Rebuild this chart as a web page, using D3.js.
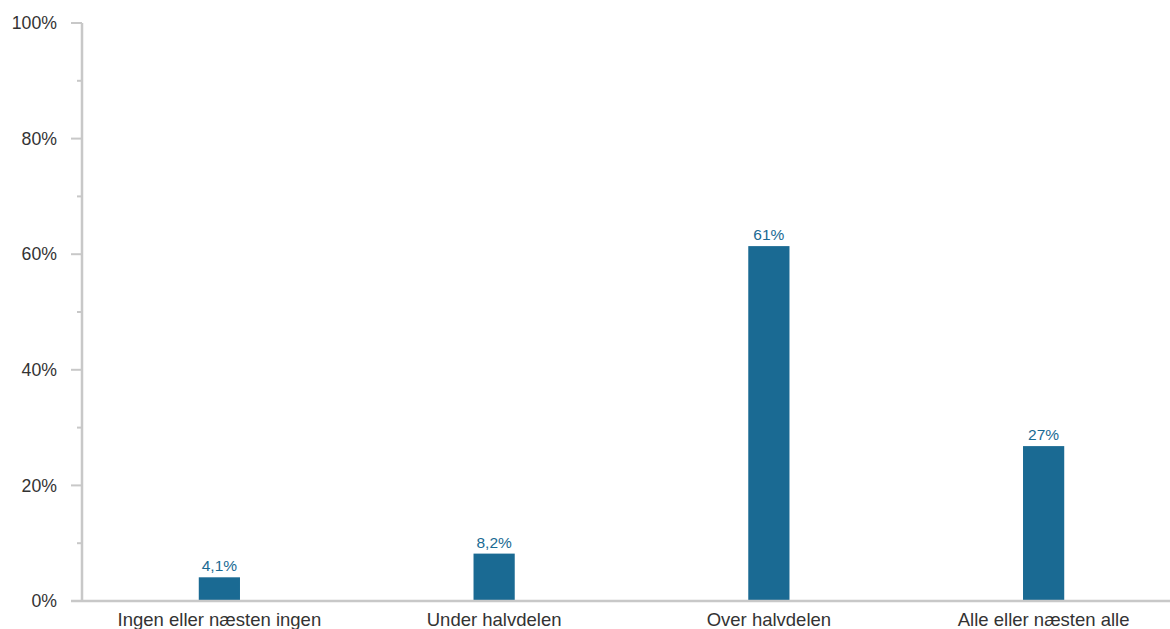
<!DOCTYPE html>
<html><head><meta charset="utf-8">
<script src="https://cdn.jsdelivr.net/npm/d3@7"></script>
<style>body{margin:0;background:#fff;} svg{display:block;font-family:"Liberation Sans",Arial,sans-serif;}</style>
</head><body><svg id="c" width="1170" height="629"></svg>
<script>
const categories = ["Ingen eller næsten ingen", "Under halvdelen", "Over halvdelen", "Alle eller næsten alle"];
const values = [4.1, 8.2, 61.4, 26.8];
const valueLabels = ["4,1%", "8,2%", "61%", "27%"];
const yTicks = [0, 20, 40, 60, 80, 100];
const yMinorTicks = [10, 30, 50, 70, 90];

const svg = d3.select("#c");
const axisColor = "#c8c8c8";
const barColor = "#1a6a93";
const x = d3.scaleBand().domain(categories).range([82, 1181]).paddingInner(0.85).paddingOuter(0.425);
const y = d3.scaleLinear().domain([0, 100]).range([601, 23]);

// y axis line
svg.append("line").attr("x1", 82).attr("x2", 82).attr("y1", y(100)).attr("y2", y(0))
  .attr("stroke", axisColor).attr("stroke-width", 2.5);
// major ticks
svg.selectAll(".tk").data(yTicks).join("line")
  .attr("x1", 71).attr("x2", 82).attr("y1", d => y(d)).attr("y2", d => y(d))
  .attr("stroke", axisColor).attr("stroke-width", 2);
svg.selectAll(".mtk").data(yMinorTicks).join("line")
  .attr("x1", 77).attr("x2", 82).attr("y1", d => y(d)).attr("y2", d => y(d))
  .attr("stroke", axisColor).attr("stroke-width", 2);
svg.selectAll(".tl").data(yTicks).join("text")
  .attr("x", 57).attr("y", d => y(d)).attr("dy", "0.35em").attr("text-anchor", "end")
  .attr("font-size", 17.7).attr("fill", "#333").text(d => d + "%");

// bars
svg.selectAll(".bar").data(values).join("rect")
  .attr("x", (d, i) => x(categories[i])).attr("width", x.bandwidth())
  .attr("y", d => y(d)).attr("height", d => y(0) - y(d)).attr("fill", barColor);
svg.selectAll(".vl").data(values).join("text")
  .attr("x", (d, i) => x(categories[i]) + x.bandwidth() / 2).attr("y", d => y(d) - 6)
  .attr("text-anchor", "middle").attr("font-size", 15.5).attr("fill", barColor)
  .text((d, i) => valueLabels[i]);

// x axis line
svg.append("line").attr("x1", 71).attr("x2", 1170).attr("y1", y(0)).attr("y2", y(0))
  .attr("stroke", axisColor).attr("stroke-width", 2.5);
svg.selectAll(".cl").data(categories).join("text")
  .attr("x", d => x(d) + x.bandwidth() / 2).attr("y", 626)
  .attr("text-anchor", "middle").attr("font-size", 18.5).attr("fill", "#333").text(d => d);
</script></body></html>
